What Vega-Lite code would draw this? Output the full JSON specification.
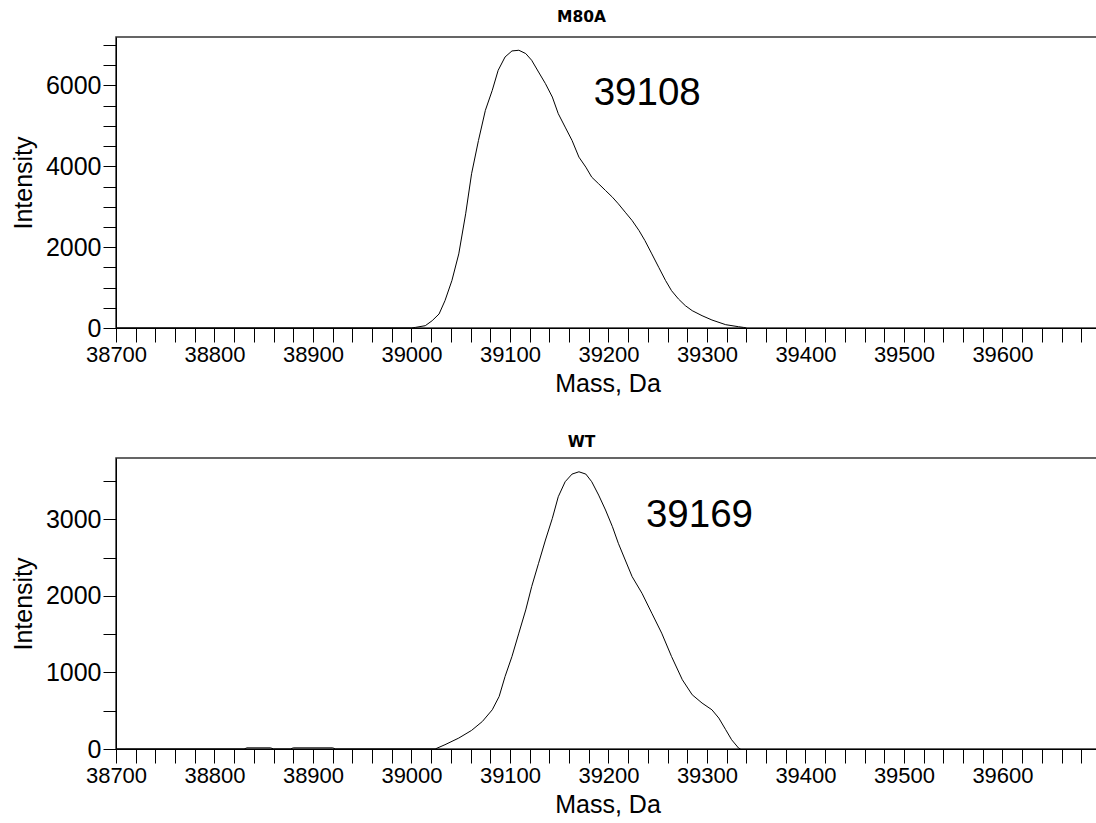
{
  "$schema": "https://vega.github.io/schema/vega-lite/v6.json",
  "background": "white",
  "padding": {"left": 10, "top": 8, "right": 0, "bottom": 0},
  "spacing": 36,
  "datasets": {
    "m80a": [
      {"mass": 38700, "intensity": 0}, {"mass": 39000, "intensity": 0},
      {"mass": 39004, "intensity": 15}, {"mass": 39014, "intensity": 57},
      {"mass": 39021, "intensity": 181}, {"mass": 39028, "intensity": 347},
      {"mass": 39034, "intensity": 676}, {"mass": 39041, "intensity": 1172},
      {"mass": 39048, "intensity": 1834}, {"mass": 39055, "intensity": 2825},
      {"mass": 39061, "intensity": 3816}, {"mass": 39068, "intensity": 4641},
      {"mass": 39075, "intensity": 5385}, {"mass": 39082, "intensity": 5880},
      {"mass": 39088, "intensity": 6376}, {"mass": 39095, "intensity": 6706},
      {"mass": 39102, "intensity": 6855}, {"mass": 39109, "intensity": 6872},
      {"mass": 39116, "intensity": 6790}, {"mass": 39122, "intensity": 6624},
      {"mass": 39129, "intensity": 6334}, {"mass": 39136, "intensity": 6046},
      {"mass": 39143, "intensity": 5714}, {"mass": 39149, "intensity": 5303},
      {"mass": 39156, "intensity": 4971}, {"mass": 39163, "intensity": 4641},
      {"mass": 39170, "intensity": 4228}, {"mass": 39177, "intensity": 3980},
      {"mass": 39183, "intensity": 3732}, {"mass": 39190, "intensity": 3568},
      {"mass": 39197, "intensity": 3402}, {"mass": 39204, "intensity": 3236},
      {"mass": 39210, "intensity": 3073}, {"mass": 39217, "intensity": 2865},
      {"mass": 39224, "intensity": 2659}, {"mass": 39231, "intensity": 2411},
      {"mass": 39237, "intensity": 2163}, {"mass": 39244, "intensity": 1834},
      {"mass": 39251, "intensity": 1502}, {"mass": 39258, "intensity": 1172},
      {"mass": 39264, "intensity": 924}, {"mass": 39271, "intensity": 719},
      {"mass": 39278, "intensity": 553}, {"mass": 39285, "intensity": 429},
      {"mass": 39295, "intensity": 305}, {"mass": 39305, "intensity": 198},
      {"mass": 39319, "intensity": 82}, {"mass": 39332, "intensity": 32},
      {"mass": 39337, "intensity": 15}, {"mass": 39340, "intensity": 0}
    ],
    "wt": [
      {"mass": 38700, "intensity": 0}, {"mass": 38830, "intensity": 0},
      {"mass": 38833, "intensity": 15}, {"mass": 38857, "intensity": 15},
      {"mass": 38860, "intensity": 0}, {"mass": 38877, "intensity": 0},
      {"mass": 38880, "intensity": 15}, {"mass": 38920, "intensity": 15},
      {"mass": 38923, "intensity": 0}, {"mass": 39024, "intensity": 0},
      {"mass": 39034, "intensity": 56}, {"mass": 39048, "intensity": 143},
      {"mass": 39061, "intensity": 243}, {"mass": 39072, "intensity": 360},
      {"mass": 39082, "intensity": 512}, {"mass": 39089, "intensity": 686},
      {"mass": 39095, "intensity": 947}, {"mass": 39102, "intensity": 1208},
      {"mass": 39109, "intensity": 1513}, {"mass": 39116, "intensity": 1816},
      {"mass": 39122, "intensity": 2120}, {"mass": 39129, "intensity": 2425},
      {"mass": 39136, "intensity": 2729}, {"mass": 39143, "intensity": 3012},
      {"mass": 39149, "intensity": 3294}, {"mass": 39156, "intensity": 3490},
      {"mass": 39163, "intensity": 3590}, {"mass": 39170, "intensity": 3620},
      {"mass": 39177, "intensity": 3590}, {"mass": 39183, "intensity": 3490},
      {"mass": 39190, "intensity": 3316}, {"mass": 39197, "intensity": 3121},
      {"mass": 39204, "intensity": 2903}, {"mass": 39210, "intensity": 2686},
      {"mass": 39217, "intensity": 2468}, {"mass": 39224, "intensity": 2251},
      {"mass": 39234, "intensity": 2034}, {"mass": 39244, "intensity": 1773},
      {"mass": 39254, "intensity": 1513}, {"mass": 39264, "intensity": 1208},
      {"mass": 39275, "intensity": 904}, {"mass": 39285, "intensity": 708},
      {"mass": 39295, "intensity": 600}, {"mass": 39305, "intensity": 512},
      {"mass": 39312, "intensity": 404}, {"mass": 39319, "intensity": 252},
      {"mass": 39325, "intensity": 121}, {"mass": 39332, "intensity": 13},
      {"mass": 39334, "intensity": 0}
    ]
  },
  "config": {
    "font": "Liberation Sans",
    "view": {"stroke": "#333333", "strokeWidth": 1.5},
    "axis": {
      "grid": false,
      "domainColor": "#000000",
      "tickColor": "#000000",
      "labelColor": "#000000",
      "titleColor": "#000000",
      "labelFont": "Liberation Sans",
      "titleFont": "Liberation Sans",
      "titleFontWeight": "normal",
      "titleFontSize": 25,
      "labelOverlap": false,
      "labelFlush": false
    },
    "axisX": {"tickSize": 14, "labelFontSize": 22, "labelPadding": 2, "titlePadding": 6},
    "axisY": {"tickSize": 13, "labelFontSize": 25, "labelPadding": 2, "titlePadding": 9},
    "title": {"font": "DejaVu Sans", "fontSize": 15.5, "fontWeight": "bold", "color": "#000000", "dx": -26, "offset": 8}
  },
  "vconcat": [
    {
      "title": "M80A",
      "width": 983,
      "height": 291,
      "layer": [
        {
          "data": {"name": "m80a"},
          "mark": {"type": "line", "color": "#000000", "strokeWidth": 1, "clip": true},
          "encoding": {
            "x": {"field": "mass", "type": "quantitative", "scale": {"domain": [38700, 39698], "nice": false, "zero": false},
              "axis": {"title": "Mass, Da", "format": "d", "labelOverlap": false, "labelFlush": false, "labelBound": false, "tickCount": 100,
                "values": [38700,38720,38740,38760,38780,38800,38820,38840,38860,38880,38900,38920,38940,38960,38980,39000,39020,39040,39060,39080,39100,39120,39140,39160,39180,39200,39220,39240,39260,39280,39300,39320,39340,39360,39380,39400,39420,39440,39460,39480,39500,39520,39540,39560,39580,39600,39620,39640,39660,39680],
                "labelExpr": "datum.value % 100 === 0 ? datum.label : ''"}},
            "y": {"field": "intensity", "type": "quantitative", "scale": {"domain": [0, 7200], "nice": false},
              "axis": {"title": "Intensity", "format": "d", "labelOverlap": false, "tickCount": 40,
                "values": [0,500,1000,1500,2000,2500,3000,3500,4000,4500,5000,5500,6000,6500,7000],
                "labelExpr": "datum.value % 2000 === 0 ? datum.label : ''"}}
          }
        },
        {
          "data": {"values": [{"mass": 39185, "intensity": 5510, "label": "39108"}]},
          "mark": {"type": "text", "align": "left", "baseline": "alphabetic", "fontSize": 38.5, "font": "Liberation Sans", "color": "#000000"},
          "encoding": {
            "x": {"field": "mass", "type": "quantitative"},
            "y": {"field": "intensity", "type": "quantitative"},
            "text": {"field": "label"}
          }
        }
      ]
    },
    {
      "title": "WT",
      "width": 983,
      "height": 291,
      "layer": [
        {
          "data": {"name": "wt"},
          "mark": {"type": "line", "color": "#000000", "strokeWidth": 1, "clip": true},
          "encoding": {
            "x": {"field": "mass", "type": "quantitative", "scale": {"domain": [38700, 39698], "nice": false, "zero": false},
              "axis": {"title": "Mass, Da", "format": "d", "labelOverlap": false, "labelFlush": false, "labelBound": false, "tickCount": 100,
                "values": [38700,38720,38740,38760,38780,38800,38820,38840,38860,38880,38900,38920,38940,38960,38980,39000,39020,39040,39060,39080,39100,39120,39140,39160,39180,39200,39220,39240,39260,39280,39300,39320,39340,39360,39380,39400,39420,39440,39460,39480,39500,39520,39540,39560,39580,39600,39620,39640,39660,39680],
                "labelExpr": "datum.value % 100 === 0 ? datum.label : ''"}},
            "y": {"field": "intensity", "type": "quantitative", "scale": {"domain": [0, 3800], "nice": false},
              "axis": {"title": "Intensity", "format": "d", "labelOverlap": false, "tickCount": 40,
                "values": [0,500,1000,1500,2000,2500,3000,3500],
                "labelExpr": "datum.value % 1000 === 0 ? datum.label : ''"}}
          }
        },
        {
          "data": {"values": [{"mass": 39238, "intensity": 2902, "label": "39169"}]},
          "mark": {"type": "text", "align": "left", "baseline": "alphabetic", "fontSize": 38.5, "font": "Liberation Sans", "color": "#000000"},
          "encoding": {
            "x": {"field": "mass", "type": "quantitative"},
            "y": {"field": "intensity", "type": "quantitative"},
            "text": {"field": "label"}
          }
        }
      ]
    }
  ]
}
